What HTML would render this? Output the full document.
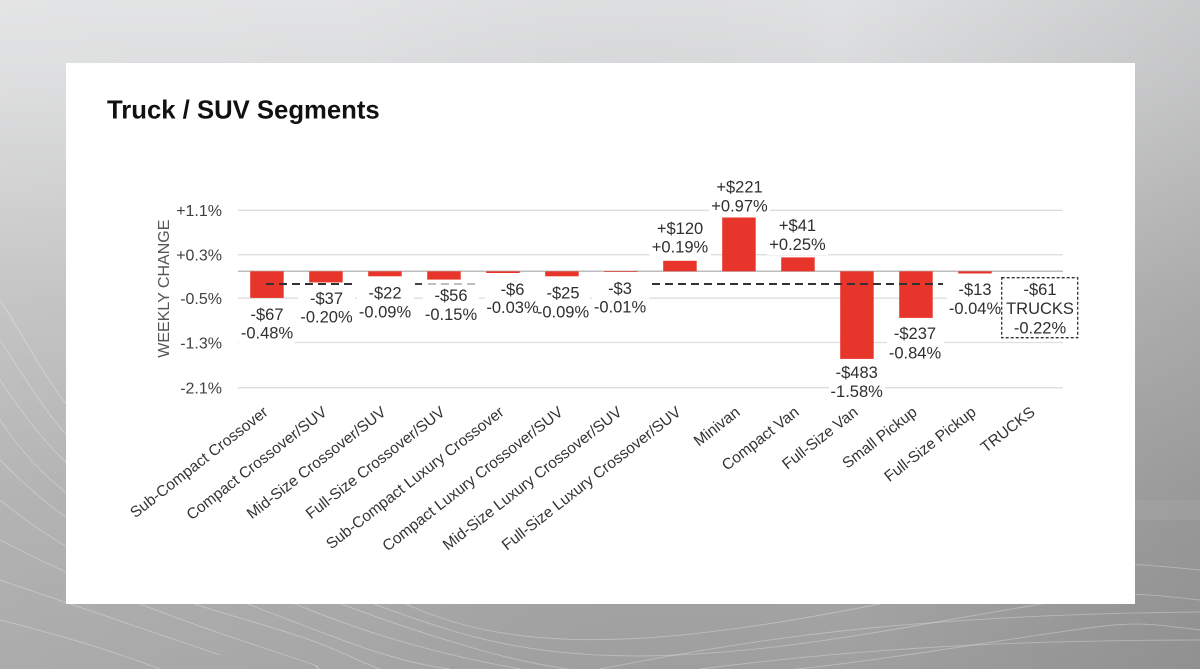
<!DOCTYPE html>
<html>
<head>
<meta charset="utf-8">
<style>
  html,body{margin:0;padding:0;width:1200px;height:669px;overflow:hidden;background:#c8c8c8;}
  svg{display:block;}
  text{font-family:"Liberation Sans",Arial,sans-serif;}
</style>
</head>
<body>
<svg width="1200" height="669" viewBox="0 0 1200 669" xmlns="http://www.w3.org/2000/svg">
  <defs>
    <linearGradient id="bgv" x1="0" y1="0" x2="0" y2="1">
      <stop offset="0" stop-color="#e0e1e2"/>
      <stop offset="0.12" stop-color="#d9dadb"/>
      <stop offset="0.45" stop-color="#bdbdbd"/>
      <stop offset="0.75" stop-color="#a9a9a9"/>
      <stop offset="1" stop-color="#a0a0a0"/>
    </linearGradient>
    <linearGradient id="bgh" x1="0" y1="0" x2="1" y2="0">
      <stop offset="0" stop-color="#ffffff" stop-opacity="0.12"/>
      <stop offset="0.3" stop-color="#ffffff" stop-opacity="0.06"/>
      <stop offset="0.7" stop-color="#000000" stop-opacity="0"/>
      <stop offset="1" stop-color="#000000" stop-opacity="0.10"/>
    </linearGradient>
  </defs>

  <!-- background -->
  <rect x="0" y="0" width="1200" height="669" fill="url(#bgv)"/>
  <rect x="0" y="0" width="1200" height="669" fill="url(#bgh)"/>
  <rect x="1135" y="500" width="65" height="20" fill="#ffffff" opacity="0.06"/>
  <g fill="none" stroke="#ffffff" stroke-opacity="0.3" stroke-width="0.9">
    <path d="M0,300 C40,360 60,420 140,470 S300,560 420,610 S700,640 900,600 S1100,560 1200,570"/>
    <path d="M0,340 C40,400 70,460 150,500 S320,590 450,630 S720,660 920,625 S1110,590 1200,600"/>
    <path d="M0,380 C40,440 80,490 170,530 S340,610 480,650 S740,680 940,650 S1120,620 1200,630"/>
    <path d="M0,420 C40,480 90,520 190,560 S360,640 520,669"/>
    <path d="M0,460 C50,510 100,550 210,590 S380,660 450,669"/>
    <path d="M0,500 C50,540 110,580 230,615 S330,650 380,669"/>
    <path d="M0,540 C60,570 120,600 240,640 S300,660 320,669"/>
    <path d="M0,580 C60,600 130,625 220,655"/>
    <path d="M0,620 C60,635 110,650 160,669"/>
    <path d="M600,669 C750,640 900,615 1200,612"/>
    <path d="M700,669 C850,650 1000,640 1200,640"/>
  </g>

  <!-- card -->
  <rect x="66" y="63" width="1069" height="541" fill="#ffffff"/>

  <!-- title -->
  <text x="107" y="118.3" font-size="25.7" font-weight="bold" fill="#111111">Truck / SUV Segments</text>

  <!-- gridlines -->
  <g stroke="#dedede" stroke-width="1.3">
    <line x1="238" y1="210.3" x2="1063" y2="210.3"/>
    <line x1="238" y1="254.7" x2="1063" y2="254.7"/>
    <line x1="238" y1="298.2" x2="1063" y2="298.2"/>
    <line x1="238" y1="342.5" x2="1063" y2="342.5"/>
    <line x1="238" y1="387.7" x2="1063" y2="387.7"/>
  </g>
  <line x1="238" y1="271.3" x2="1063" y2="271.3" stroke="#bdbdbd" stroke-width="1.5"/>

  <!-- y tick labels -->
  <g font-size="16" fill="#404040" text-anchor="end">
    <text x="222" y="216.1">+1.1%</text>
    <text x="222" y="260.5">+0.3%</text>
    <text x="222" y="304.0">-0.5%</text>
    <text x="222" y="348.3">-1.3%</text>
    <text x="222" y="393.5">-2.1%</text>
  </g>
  <text transform="translate(169,288.7) rotate(-90)" font-size="16" fill="#555555" text-anchor="middle">WEEKLY CHANGE</text>

  <!-- bars -->
  <g fill="#e8352b">
    <rect x="250.2" y="271.3" width="33.5" height="26.6"/>
    <rect x="309.2" y="271.3" width="33.5" height="11.1"/>
    <rect x="368.2" y="271.3" width="33.5" height="5.0"/>
    <rect x="427.2" y="271.3" width="33.5" height="8.3"/>
    <rect x="486.2" y="271.3" width="33.5" height="1.7"/>
    <rect x="545.2" y="271.3" width="33.5" height="5.0"/>
    <rect x="604.2" y="271.3" width="33.5" height="0.7"/>
    <rect x="663.2" y="260.8" width="33.5" height="10.5"/>
    <rect x="722.2" y="217.5" width="33.5" height="53.8"/>
    <rect x="781.2" y="257.4" width="33.5" height="13.9"/>
    <rect x="840.2" y="271.3" width="33.5" height="87.6"/>
    <rect x="899.2" y="271.3" width="33.5" height="46.6"/>
    <rect x="958.2" y="271.3" width="33.5" height="2.2"/>
  </g>

  <!-- label backgrounds (break gridlines) -->
  <g fill="#ffffff">
    <rect x="239" y="303" width="56" height="41"/>
    <rect x="298" y="287" width="57" height="41"/>
    <rect x="357" y="282" width="57" height="41"/>
    <rect x="423" y="284" width="56" height="41"/>
    <rect x="485" y="278.5" width="55" height="40"/>
    <rect x="537" y="282" width="53" height="41"/>
    <rect x="592" y="277.5" width="57" height="40"/>
    <rect x="649" y="217.5" width="62" height="40"/>
    <rect x="709" y="175.5" width="61" height="41"/>
    <rect x="767" y="214" width="61" height="41"/>
    <rect x="829" y="361.5" width="56" height="40.5"/>
    <rect x="887" y="322.5" width="57" height="41"/>
    <rect x="947" y="278.5" width="55" height="40.5"/>
    <rect x="1001.7" y="277.7" width="76" height="60"/>
  </g>

  <!-- average dashed line -->
  <g stroke-width="2" stroke-dasharray="8,5" fill="none">
    <line x1="266" y1="284" x2="355" y2="284" stroke="#333333"/>
    <line x1="415" y1="284" x2="422" y2="284" stroke="#444444"/>
    <line x1="428" y1="284" x2="480" y2="284" stroke="#aaaaaa" stroke-width="1.5"/>
    <line x1="652" y1="284" x2="943" y2="284" stroke="#333333"/>
  </g>

  <!-- TRUCKS box -->
  <rect x="1001.7" y="277.7" width="76" height="60" fill="none" stroke="#333333" stroke-width="1.3" stroke-dasharray="3,2"/>

  <!-- data labels -->
  <g font-size="16.5" fill="#2f2f2f" text-anchor="middle">
    <text x="267" y="319.8">-$67</text><text x="267" y="338.5">-0.48%</text>
    <text x="326.5" y="304.1">-$37</text><text x="326.5" y="322.5">-0.20%</text>
    <text x="385" y="298.5">-$22</text><text x="385" y="317.5">-0.09%</text>
    <text x="451" y="300.8">-$56</text><text x="451" y="319.8">-0.15%</text>
    <text x="512.5" y="295.1">-$6</text><text x="512.5" y="313.1">-0.03%</text>
    <text x="563" y="298.5">-$25</text><text x="563" y="317.5">-0.09%</text>
    <text x="620" y="294.1">-$3</text><text x="620" y="312.5">-0.01%</text>
    <text x="680" y="234.1">+$120</text><text x="680" y="252.5">+0.19%</text>
    <text x="739.5" y="192.5">+$221</text><text x="739.5" y="211.5">+0.97%</text>
    <text x="797.5" y="230.8">+$41</text><text x="797.5" y="249.8">+0.25%</text>
    <text x="856.7" y="378.1">-$483</text><text x="856.7" y="396.8">-1.58%</text>
    <text x="915" y="339.1">-$237</text><text x="915" y="358.5">-0.84%</text>
    <text x="975" y="295.1">-$13</text><text x="975" y="314.1">-0.04%</text>
    <text x="1040" y="295.1">-$61</text><text x="1040" y="314.1">TRUCKS</text><text x="1040" y="333.5">-0.22%</text>
  </g>

  <!-- category labels -->
  <g font-size="15.5" fill="#333333" text-anchor="end">
    <text transform="translate(269,414) rotate(-38)">Sub-Compact Crossover</text>
    <text transform="translate(328,414) rotate(-38)">Compact Crossover/SUV</text>
    <text transform="translate(387,414) rotate(-38)">Mid-Size Crossover/SUV</text>
    <text transform="translate(446,414) rotate(-38)">Full-Size Crossover/SUV</text>
    <text transform="translate(505,414) rotate(-38)">Sub-Compact Luxury Crossover</text>
    <text transform="translate(564,414) rotate(-38)">Compact Luxury Crossover/SUV</text>
    <text transform="translate(623,414) rotate(-38)">Mid-Size Luxury Crossover/SUV</text>
    <text transform="translate(682,414) rotate(-38)">Full-Size Luxury Crossover/SUV</text>
    <text transform="translate(741,414) rotate(-38)">Minivan</text>
    <text transform="translate(800,414) rotate(-38)">Compact Van</text>
    <text transform="translate(859,414) rotate(-38)">Full-Size Van</text>
    <text transform="translate(918,414) rotate(-38)">Small Pickup</text>
    <text transform="translate(977,414) rotate(-38)">Full-Size Pickup</text>
    <text transform="translate(1036,414) rotate(-38)">TRUCKS</text>
  </g>
</svg>
</body>
</html>
